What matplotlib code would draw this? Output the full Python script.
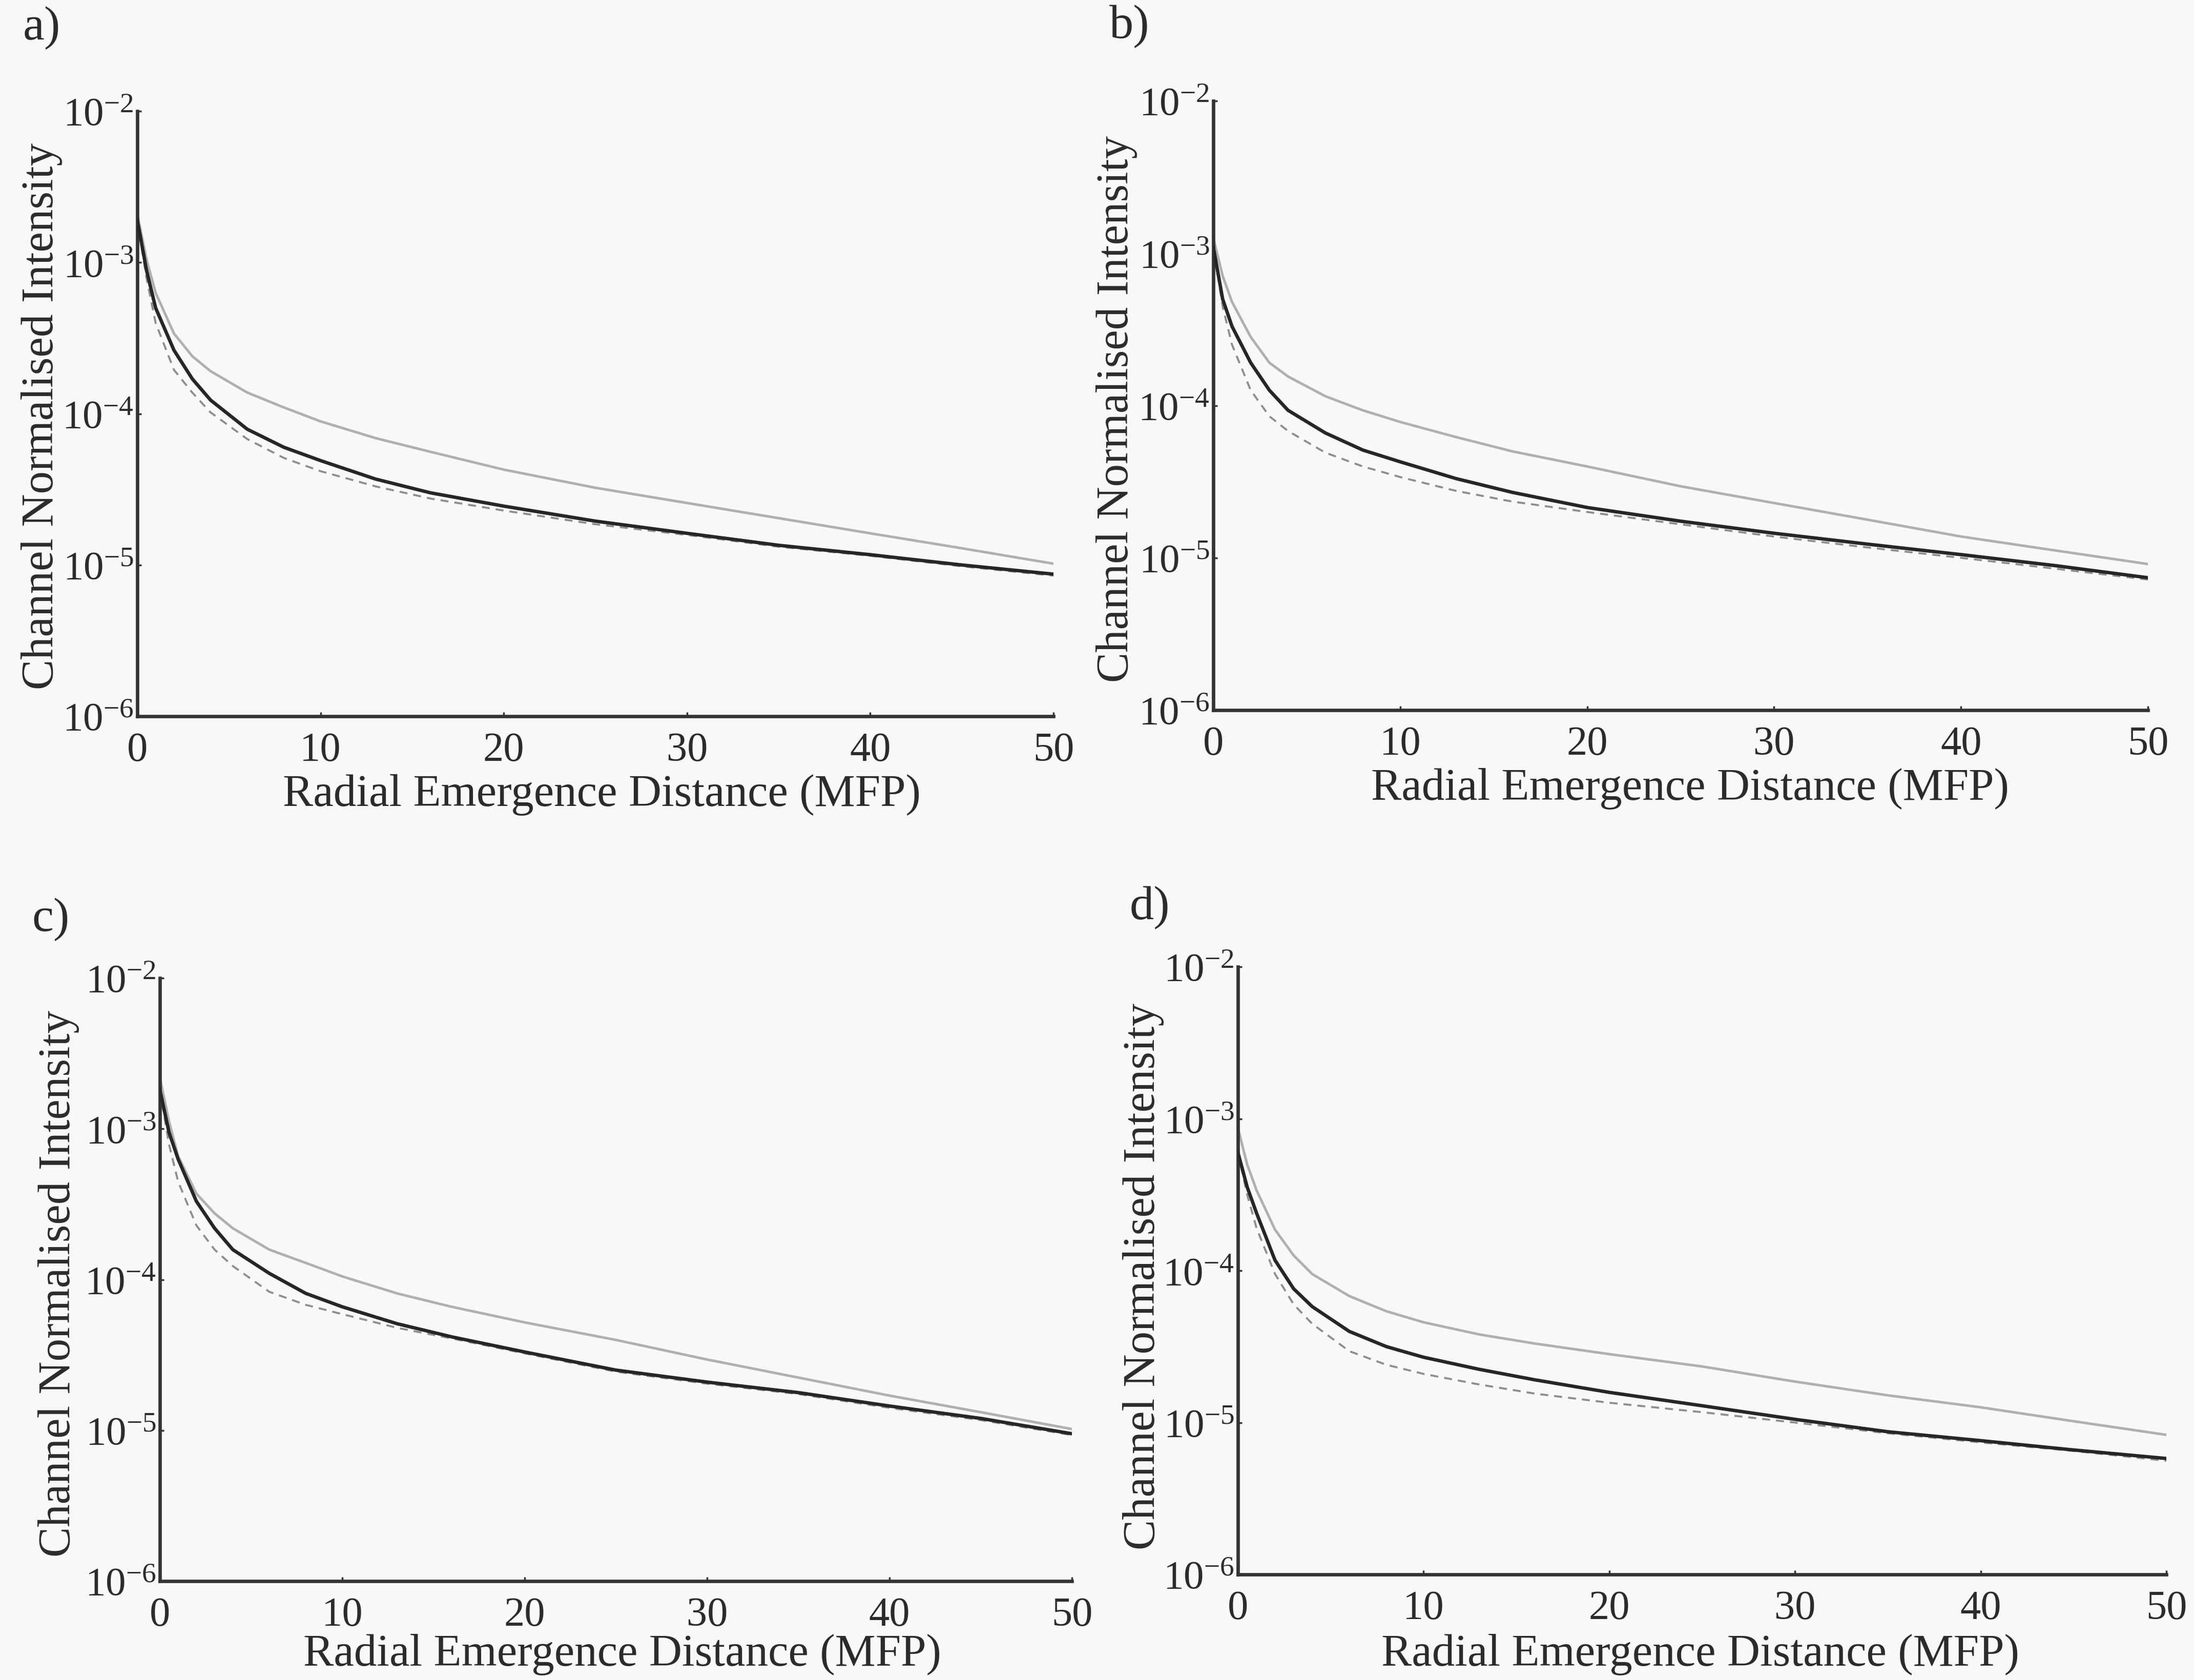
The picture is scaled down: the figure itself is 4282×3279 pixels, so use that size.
import matplotlib
matplotlib.use('Agg')
import matplotlib.pyplot as plt
from matplotlib.ticker import FixedLocator, NullLocator

plt.rcParams['font.family'] = ['Liberation Serif', 'DejaVu Serif']
plt.rcParams['mathtext.fontset'] = 'custom'
plt.rcParams['mathtext.rm'] = 'Liberation Serif'
plt.rcParams['mathtext.it'] = 'Liberation Serif:italic'

# radial emergence distance (MFP), shared by every curve
dist = [0, 0.5, 1, 2, 3, 4, 6, 8, 10, 13, 16, 20, 25, 30, 35, 40, 45, 50]

# a)
a_light = [2.09e-3, 1.05e-3, 6.3e-4, 3.39e-4, 2.40e-4, 1.91e-4, 1.38e-4, 1.10e-4, 8.9e-5,
           6.9e-5, 5.6e-5, 4.27e-5, 3.24e-5, 2.57e-5, 2.04e-5, 1.62e-5, 1.29e-5, 1.02e-5]
a_solid = [1.91e-3, 8.9e-4, 5.0e-4, 2.63e-4, 1.70e-4, 1.23e-4, 7.9e-5, 6.0e-5, 4.9e-5,
           3.7e-5, 3.0e-5, 2.45e-5, 1.95e-5, 1.62e-5, 1.35e-5, 1.17e-5, 1.0e-5, 8.7e-6]
a_dash = [1.91e-3, 7.9e-4, 3.98e-4, 1.95e-4, 1.38e-4, 1.02e-4, 6.8e-5, 5.1e-5, 4.17e-5,
          3.31e-5, 2.75e-5, 2.29e-5, 1.86e-5, 1.58e-5, 1.32e-5, 1.15e-5, 9.8e-6, 8.5e-6]

# b)
b_light = [1.26e-3, 7.1e-4, 4.79e-4, 2.82e-4, 1.91e-4, 1.55e-4, 1.15e-4, 9.3e-5, 7.8e-5,
           6.2e-5, 5.0e-5, 3.98e-5, 2.95e-5, 2.29e-5, 1.78e-5, 1.38e-5, 1.12e-5, 9.1e-6]
b_solid = [1.10e-3, 5.0e-4, 3.31e-4, 1.91e-4, 1.26e-4, 9.3e-5, 6.6e-5, 5.1e-5, 4.27e-5,
           3.31e-5, 2.69e-5, 2.14e-5, 1.74e-5, 1.45e-5, 1.23e-5, 1.05e-5, 8.9e-6, 7.4e-6]
b_dash = [1.10e-3, 4.47e-4, 2.51e-4, 1.26e-4, 8.5e-5, 6.8e-5, 4.9e-5, 3.98e-5, 3.39e-5,
          2.75e-5, 2.34e-5, 2.0e-5, 1.66e-5, 1.38e-5, 1.17e-5, 1.0e-5, 8.5e-6, 7.2e-6]

# c)
c_light = [2.19e-3, 1.12e-3, 6.6e-4, 3.72e-4, 2.75e-4, 2.19e-4, 1.58e-4, 1.29e-4, 1.05e-4,
           8.1e-5, 6.6e-5, 5.2e-5, 3.98e-5, 2.95e-5, 2.24e-5, 1.70e-5, 1.32e-5, 1.02e-5]
c_solid = [1.82e-3, 9.5e-4, 6.3e-4, 3.31e-4, 2.19e-4, 1.58e-4, 1.10e-4, 8.1e-5, 6.6e-5,
           5.1e-5, 4.17e-5, 3.31e-5, 2.51e-5, 2.09e-5, 1.78e-5, 1.45e-5, 1.20e-5, 9.5e-6]
c_dash = [1.82e-3, 7.9e-4, 4.47e-4, 2.29e-4, 1.58e-4, 1.23e-4, 8.3e-5, 6.8e-5, 5.9e-5,
          4.79e-5, 4.07e-5, 3.24e-5, 2.45e-5, 2.04e-5, 1.74e-5, 1.41e-5, 1.17e-5, 9.3e-6]

# d)
d_light = [8.7e-4, 5.0e-4, 3.39e-4, 1.86e-4, 1.26e-4, 9.5e-5, 6.8e-5, 5.4e-5, 4.57e-5,
           3.80e-5, 3.31e-5, 2.82e-5, 2.34e-5, 1.86e-5, 1.51e-5, 1.26e-5, 1.02e-5, 8.3e-6]
d_solid = [6.0e-4, 3.55e-4, 2.40e-4, 1.17e-4, 7.6e-5, 5.8e-5, 3.98e-5, 3.16e-5, 2.69e-5,
           2.24e-5, 1.91e-5, 1.58e-5, 1.29e-5, 1.05e-5, 8.7e-6, 7.6e-6, 6.6e-6, 5.8e-6]
d_dash = [6.0e-4, 3.16e-4, 1.91e-4, 9.5e-5, 6.0e-5, 4.47e-5, 2.95e-5, 2.40e-5, 2.09e-5,
          1.78e-5, 1.55e-5, 1.35e-5, 1.17e-5, 1.0e-5, 8.5e-6, 7.4e-6, 6.5e-6, 5.6e-6]

x_ticks = [0, 10, 20, 30, 40, 50]
y_ticks = [1e-6, 1e-5, 1e-4, 1e-3, 1e-2]
y_tick_labels = [r'$\mathregular{10^{-6}}$', r'$\mathregular{10^{-5}}$', r'$\mathregular{10^{-4}}$',
                 r'$\mathregular{10^{-3}}$', r'$\mathregular{10^{-2}}$']
x_title = 'Radial Emergence Distance (MFP)'
y_title = 'Channel Normalised Intensity'

W, H = 4282, 3279
ink = '#2b2b2b'

# box = (left, top, right, bottom) in pixels; label spots in pixels too
panels = [
    ('a)', a_light, a_solid, a_dash, (268, 217, 2056, 1398), (45, 55), (1174, 1552), (82, 812)),
    ('b)', b_light, b_solid, b_dash, (2368, 197, 4192, 1386), (2165, 52), (3299, 1540), (2180, 798)),
    ('c)', c_light, c_solid, c_dash, (312, 1909, 2092, 3086), (62, 1795), (1215, 3230), (115, 2505)),
    ('d)', d_light, d_solid, d_dash, (2416, 1887, 4228, 3073), (2205, 1772), (3318, 3230), (2232, 2491)),
]

fig = plt.figure(figsize=(W / 100, H / 100), dpi=100)
fig.patch.set_facecolor('#f8f8f8')

for tag, light, solid, dash, box, tag_xy, xl_xy, yl_xy in panels:
    l, t, r, b = box
    ax = fig.add_axes([l / W, 1 - b / H, (r - l) / W, (b - t) / H])
    ax.patch.set_alpha(0)

    ax.plot(dist, light, color='#b0b0b0', lw=3.6, zorder=2)
    ax.plot(dist, dash, color='#8e8e8e', lw=2.8, ls=(0, (4, 3)), zorder=3)
    ax.plot(dist, solid, color='#262626', lw=4.8, zorder=4)

    ax.set_yscale('log')
    ax.set_xlim(0, 50)
    ax.set_ylim(1e-6, 1e-2)
    ax.xaxis.set_major_locator(FixedLocator(x_ticks))
    ax.yaxis.set_major_locator(FixedLocator(y_ticks))
    ax.yaxis.set_minor_locator(NullLocator())
    ax.set_yticklabels(y_tick_labels)

    for side in ['top', 'right']:
        ax.spines[side].set_visible(False)
    for side in ['left', 'bottom']:
        ax.spines[side].set_linewidth(4.8)
        ax.spines[side].set_color('#333333')

    ax.tick_params(axis='both', direction='in', length=6, width=2.5, color='#333333',
                   labelcolor=ink)
    ax.tick_params(axis='x', pad=22, labelsize=58)
    ax.tick_params(axis='y', pad=5, labelsize=57)

    fig.text(tag_xy[0] / W, 1 - tag_xy[1] / H, tag, fontsize=68, color=ink,
             ha='left', va='center')
    fig.text(xl_xy[0] / W, 1 - xl_xy[1] / H, x_title, fontsize=64, color=ink,
             ha='center', va='center')
    fig.text(yl_xy[0] / W, 1 - yl_xy[1] / H, y_title, fontsize=64, color=ink,
             ha='center', va='center', rotation=90)

fig.savefig('out.png', dpi=100, facecolor=fig.get_facecolor())
